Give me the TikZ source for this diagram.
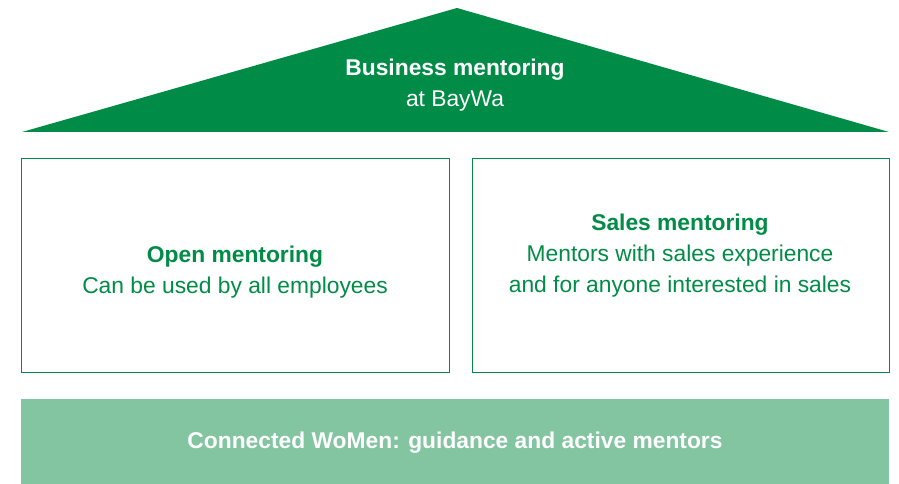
\documentclass[tikz,border=0pt]{standalone}
\usepackage{fontspec}
\setmainfont{Liberation Sans}
\definecolor{bwgreen}{HTML}{008C46}
\definecolor{bwlight}{HTML}{82C5A0}
\begin{document}
\begin{tikzpicture}[x=1pt,y=-1pt,
  txt/.style={font=\fontsize{22.8}{31}\selectfont, align=center, inner sep=0pt},
  boxframe/.style={draw=bwgreen, line width=1pt, fill=white}]
\useasboundingbox (0,0) rectangle (899,484);
\fill[bwgreen] (22,132) coordinate (roofL) -- (457,8) coordinate (roofT) -- (889,132) coordinate (roofR) -- cycle;
\node[txt, text=white] (roof) at (455,85) {\textbf{Business mentoring}\\at BayWa};
\draw[boxframe] (21,158) rectangle (449,372);
\draw[boxframe] (472,158) rectangle (889,372);
\node[txt, text=bwgreen] (open) at (235,272) {\textbf{Open mentoring}\\Can be used by all employees};
\node[txt, text=bwgreen] (sales) at (680,256) {\textbf{Sales mentoring}\\Mentors with sales experience\\and for anyone interested in sales};
\fill[bwlight] (21,399) rectangle (889,484);
\node[txt, text=white] (base) at (455,443) {\textbf{Connected WoMen: guidance and active mentors}};
\end{tikzpicture}
\end{document}
